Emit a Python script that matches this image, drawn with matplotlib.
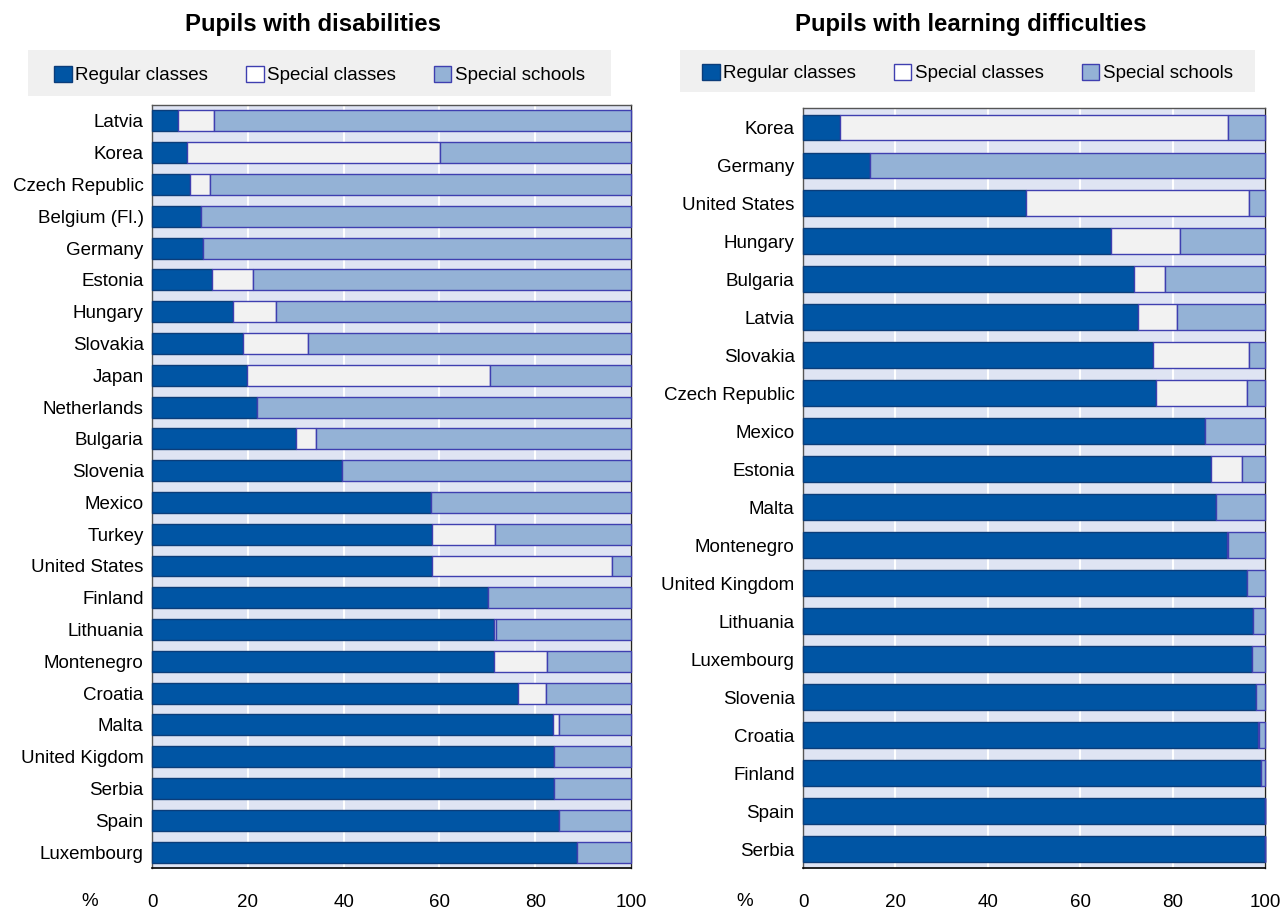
import matplotlib
matplotlib.use("Agg")
import matplotlib.pyplot as plt
from matplotlib import font_manager
from matplotlib.patches import Rectangle, Patch

# ---------------- data ----------------
left_countries = ["Latvia", "Korea", "Czech Republic", "Belgium (Fl.)", "Germany", "Estonia",
                  "Hungary", "Slovakia", "Japan", "Netherlands", "Bulgaria", "Slovenia",
                  "Mexico", "Turkey", "United States", "Finland", "Lithuania", "Montenegro",
                  "Croatia", "Malta", "United Kigdom", "Serbia", "Spain", "Luxembourg"]
left_regular = [5.4, 7.3, 7.9, 10.2, 10.6, 12.5, 16.9, 19.0, 19.8, 21.9, 30.1, 39.7,
                58.2, 58.5, 58.5, 70.1, 71.4, 71.4, 76.4, 83.7, 83.9, 83.9, 85.0, 88.7]
left_spec_classes = [7.5, 52.8, 4.2, 0.0, 0.0, 8.6, 9.0, 13.6, 50.8, 0.0, 4.1, 0.0,
                     0.0, 13.1, 37.5, 0.0, 0.4, 11.1, 5.9, 1.3, 0.0, 0.0, 0.0, 0.0]
left_spec_schools = [87.1, 39.9, 87.9, 89.8, 89.4, 78.9, 74.1, 67.4, 29.4, 78.1, 65.8, 60.3,
                     41.8, 28.4, 4.0, 29.9, 28.2, 17.5, 17.7, 15.0, 16.1, 16.1, 15.0, 11.3]

right_countries = ["Korea", "Germany", "United States", "Hungary", "Bulgaria", "Latvia",
                   "Slovakia", "Czech Republic", "Mexico", "Estonia", "Malta", "Montenegro",
                   "United Kingdom", "Lithuania", "Luxembourg", "Slovenia", "Croatia",
                   "Finland", "Spain", "Serbia"]
right_regular = [8.0, 14.5, 48.3, 66.7, 71.6, 72.5, 75.8, 76.4, 87.0, 88.3, 89.4, 91.8,
                 96.1, 97.4, 97.2, 98.1, 98.5, 99.1, 100.0, 100.0]
right_spec_classes = [84.0, 0.0, 48.2, 14.9, 6.8, 8.5, 20.7, 19.7, 0.0, 6.7, 0.0, 0.2,
                      0.0, 0.0, 0.0, 0.0, 0.2, 0.0, 0.0, 0.0]
right_spec_schools = [8.0, 85.5, 3.5, 18.4, 21.6, 19.0, 3.5, 3.9, 13.0, 5.0, 10.6, 8.0,
                      3.9, 2.6, 2.8, 1.9, 1.3, 0.9, 0.0, 0.0]

series_labels = ["Regular classes", "Special classes", "Special schools"]
x_ticks = [0, 20, 40, 60, 80, 100]

# ---------------- style ----------------
names = {f.name for f in font_manager.fontManager.ttflist}
if "Liberation Sans Narrow" in names:
    FAM = ["Liberation Sans Narrow", "DejaVu Sans"]
    FS = 15.5
else:
    FAM = ["Liberation Sans", "DejaVu Sans"]
    FS = 13.5
plt.rcParams["font.family"] = FAM

C_REG = "#0055a4"
C_CLS = "#f2f2f2"
C_SCH = "#94b2d6"
E_REG = "#0b3d7a"
E_OTH = "#3f3fb0"
BG = "#dfe4f3"

fig = plt.figure(figsize=(12.82, 9.11), dpi=100)


def panel(rect, countries, reg, cls, sch, title, title_x, legend_rect):
    ax = fig.add_axes(rect)
    ax.set_facecolor(BG)
    n = len(countries)
    y = list(range(n))
    h = 0.66
    ax.barh(y, reg, height=h, color=C_REG, edgecolor=E_REG, linewidth=1.0,
            clip_on=False, zorder=3)
    ax.barh(y, cls, left=reg, height=h, color=C_CLS, edgecolor=E_OTH, linewidth=1.0,
            clip_on=False, zorder=3)
    left2 = [a + b for a, b in zip(reg, cls)]
    ax.barh(y, sch, left=left2, height=h, color=C_SCH, edgecolor=E_OTH, linewidth=1.0,
            clip_on=False, zorder=3)
    ax.set_xlim(0, 100)
    ax.set_ylim(n - 0.5, -0.5)
    ax.set_yticks(y)
    ax.set_yticklabels(countries, fontsize=FS)
    ax.set_xticks(x_ticks)
    ax.set_xticklabels([str(t) for t in x_ticks], fontsize=FS)
    ax.tick_params(axis="both", length=0)
    ax.tick_params(axis="x", pad=19)
    ax.tick_params(axis="y", pad=6)
    ax.xaxis.grid(True, color="white", linewidth=1.5, zorder=1)
    ax.set_axisbelow(True)
    for s in ["left", "top", "right"]:
        ax.spines[s].set_color("#555555")
        ax.spines[s].set_linewidth(1.0)
    ax.spines["bottom"].set_color("#000000")
    ax.spines["bottom"].set_linewidth(1.2)
    ax.spines["right"].set_color("#222222")
    # title
    fig.text(title_x, 1 - 25 / 911, title, ha="center", va="center", fontsize=17.2,
             fontweight="bold", family=["Liberation Sans", "DejaVu Sans"])
    # legend box
    lx, ly, lw, lh = legend_rect
    fig.patches.append(Rectangle((lx, ly), lw, lh, transform=fig.transFigure,
                                 facecolor="#f0f0f0", edgecolor="none", zorder=0))
    handles = [Patch(facecolor=C_REG, edgecolor=E_REG, label=series_labels[0]),
               Patch(facecolor="white", edgecolor=E_OTH, label=series_labels[1]),
               Patch(facecolor=C_SCH, edgecolor=E_OTH, label=series_labels[2])]
    fig.legend(handles=handles, loc="center", bbox_to_anchor=(lx + lw / 2, ly + lh / 2 - 0.002),
               ncol=3, frameon=False, fontsize=FS, handlelength=0.95, handleheight=0.95,
               handletextpad=0.2, columnspacing=2.0, borderaxespad=0)
    return ax


axL = panel([0.1186, 0.0472, 0.3736, 0.8375], left_countries, left_regular,
            left_spec_classes, left_spec_schools, "Pupils with disabilities", 313 / 1282,
            (0.0218, 0.8946, 0.4548, 0.0505))
axR = panel([0.6264, 0.0472, 0.3604, 0.8342], right_countries, right_regular,
            right_spec_classes, right_spec_schools, "Pupils with learning difficulties", 971 / 1282,
            (0.5304, 0.8990, 0.4485, 0.0461))

fig.text(90 / 1282, 1 - 902 / 911, "%", ha="center", va="center", fontsize=FS)
fig.text(745 / 1282, 1 - 902 / 911, "%", ha="center", va="center", fontsize=FS)

fig.savefig("out.png", dpi=100)
